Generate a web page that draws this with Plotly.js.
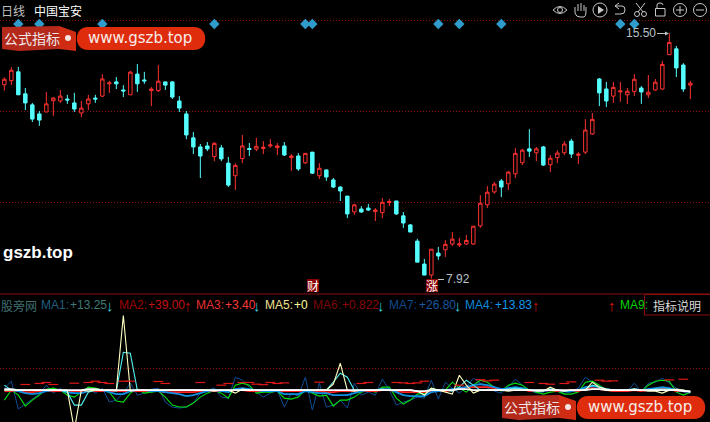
<!DOCTYPE html>
<html><head><meta charset="utf-8">
<script src="https://cdn.plot.ly/plotly-3.0.1.min.js"></script>
<style>html,body{margin:0;padding:0;background:#000;overflow:hidden}#c{width:710px;height:422px}</style>
</head><body><div id="c"></div>
<script>
const opens=[13.91,14.04,14.31,13.63,13.29,13.01,13.07,13.42,13.41,13.47,
13.35,13.04,13.32,13.50,13.56,13.94,14.00,13.75,13.60,14.24,
14.06,13.73,13.73,14.00,14.00,13.41,13.01,12.27,11.99,12.02,
11.69,11.96,11.49,11.10,11.63,11.94,11.92,11.94,12.02,11.97,
12.02,11.66,11.71,11.50,11.83,11.10,11.28,10.97,10.75,10.47,
9.98,10.07,10.10,9.99,9.96,10.27,10.32,9.86,9.58,9.08,
8.37,8.03,8.71,8.81,8.99,8.96,8.99,8.99,9.55,10.20,
10.60,10.94,10.85,11.16,11.50,11.93,11.81,11.99,11.44,11.66,
11.81,12.17,11.73,11.83,12.39,14.09,13.78,13.56,13.69,13.60,
13.70,13.81,13.60,13.75,13.78,14.84,15.02,14.52,13.90];
const closes=[14.08,14.36,13.60,13.35,12.85,12.82,13.32,13.50,13.56,13.44,
13.16,13.19,13.47,13.47,14.09,13.97,13.94,13.72,14.30,13.94,
14.03,13.78,14.02,13.90,13.53,13.19,12.36,11.99,11.71,11.93,
12.10,11.62,10.81,11.42,12.02,11.91,12.01,11.98,12.05,12.02,
11.74,11.71,11.31,11.79,11.18,11.33,11.06,10.75,10.63,9.92,
10.20,9.98,10.04,10.04,10.28,10.30,9.92,9.64,9.36,8.43,
8.03,8.83,8.62,8.98,9.14,8.99,9.10,9.54,10.25,10.59,
10.84,10.75,11.21,11.79,11.89,11.86,11.93,11.43,11.64,11.80,
12.08,11.77,11.77,12.51,12.84,13.66,13.41,13.83,13.72,13.71,
14.08,13.69,13.68,13.99,14.54,15.22,14.43,13.78,13.96];
const highs=[14.14,14.46,14.46,13.81,13.35,13.10,13.69,13.53,13.75,13.60,
13.66,13.41,13.60,13.60,14.24,14.03,14.15,13.90,14.34,14.55,
14.31,13.84,14.52,14.00,14.03,13.56,13.10,12.45,12.08,12.14,
12.14,12.05,11.68,11.49,12.36,12.11,12.27,12.17,12.23,12.11,
12.14,11.77,11.80,11.80,11.83,11.49,11.28,11.03,10.78,10.47,
10.23,10.16,10.23,10.10,10.41,10.38,10.32,9.98,9.61,9.15,
8.53,8.83,8.90,9.11,9.36,9.18,9.27,9.54,10.50,10.78,
10.91,11.00,11.25,11.96,11.93,12.54,11.99,12.02,11.74,11.89,
12.17,12.24,11.83,12.85,13.04,14.12,14.00,14.00,14.00,13.81,
14.24,13.87,14.21,14.09,14.65,15.50,15.11,14.58,14.03];
const lows=[13.73,13.90,13.60,13.13,12.76,12.64,13.07,12.95,13.35,13.32,
13.07,12.91,13.13,13.35,13.53,13.66,13.78,13.53,13.60,13.69,
13.94,13.25,13.69,13.75,13.47,13.07,12.23,11.77,11.03,11.86,
11.55,11.55,10.75,10.66,11.49,11.71,11.86,11.77,11.96,11.74,
11.71,11.25,11.25,11.46,11.15,11.00,10.94,10.72,10.32,9.79,
9.89,9.95,10.01,9.70,9.79,10.16,9.89,9.49,9.36,8.43,
8.03,7.92,8.50,8.59,8.93,8.90,8.96,8.96,9.49,10.10,
10.54,10.44,10.66,11.03,11.43,11.68,11.55,11.40,11.21,11.49,
11.74,11.65,11.46,11.77,12.36,13.25,13.22,13.35,13.38,13.32,
13.56,13.32,13.50,13.72,13.75,14.84,14.15,13.69,13.47];
const signalDays=[2,5,14,30,43,44,62,65,71,88,90];

const ma7=[2,9,-19,-14,-9,-4,5,-3,2,-5,
-2,-1,2,-3,2,-12,-10,-3,7,-5,
-3,1,2,-12,-17,-18,-17,-13,-3,0,
2,-7,-8,13,10,3,-2,-7,-3,0,
-17,-3,-6,13,-20,7,-17,-15,-10,-18,
7,-5,-2,-5,11,0,-15,-12,-10,-7,
-8,10,-9,8,2,-3,3,12,7,2,
-1,-3,3,11,5,0,-3,-2,2,-1,
-3,-2,2,13,8,4,1,-1,0,-1,
7,-2,7,8,12,7,2,-2,-3];
const ma9=[-10,0,-5,-16,-10,-5,1,2,0,-5,
-7,-2,3,2,0,-2,-11,-12,-3,1,
-3,-2,-1,-7,-15,-17,-17,-13,-7,-3,
0,-3,-8,5,7,5,-3,-2,-2,-1,
-8,-9,-7,0,-3,-6,-5,-16,-10,-10,
-7,-2,0,-2,3,3,-8,-14,-10,-4,
-3,2,0,0,8,2,-2,5,10,8,
3,-1,5,7,5,0,-2,-4,-2,-1,
-4,-4,-2,8,9,5,0,-1,-1,-1,
1,-1,5,9,10,9,-2,-5,-2];
const ma5=[0,0,0,0,0,0,0,0,0,0,
-40,0,-1,0,0,0,0,75,-1,0,
0,0,0,0,0,0,0,0,0,0,
-1,0,0,-3,1,0,0,0,0,0,
0,0,0,0,0,0,0,6,27,0,
-1,0,0,0,0,0,0,0,0,-1,
-5,2,0,-2,-4,15,5,-3,0,0,
0,0,-1,0,0,0,-1,-1,3,0,
-1,0,0,0,8,3,1,0,0,0,
1,0,-1,-1,-3,0,1,0,-2];
const ma8=[5,0,0,0,0,0,0,0,0,-2,
-15,-15,-2,0,0,0,-1,38,37,0,
0,0,0,0,0,0,0,0,0,0,
0,0,0,0,0,0,0,0,0,0,
0,0,0,0,0,0,0,8,17,13,
0,0,0,0,1,0,0,0,0,-1,
-5,1,0,0,-1,3,10,5,0,0,
0,0,1,2,1,0,0,0,1,0,
-1,0,0,1,5,3,1,0,0,0,
1,0,0,1,1,1,0,0,-2];
const ma4=[0,0,-1,-3,-4,-3,-1,0,0,-2,
-3,-3,-1,0,0,-2,-4,-4,-1,0,
0,-1,-1,-2,-3,-4,-6,-5,-3,-1,
0,-1,-2,1,2,1,0,-1,-1,-1,
-4,-4,-4,-1,-2,-3,-3,-5,-5,-5,
-3,-1,0,0,1,1,-2,-5,-6,-6,
-6,-2,-1,0,1,2,3,5,6,5,
3,1,2,3,2,0,-1,-1,0,0,
-1,-1,0,3,4,3,1,0,0,0,
1,0,1,2,3,2,0,-1,-2];
const ma3=[-1,-1,-1,-2,-2,-1,-1,-1,-1,-1,
-1,-1,0,-1,-1,-1,-1,-1,-1,-1,
-1,-1,-1,-2,-2,-2,-2,-2,-1,-1,
-1,-1,-1,0,0,-1,-1,-1,-1,-1,
-1,-1,-1,-1,-1,-1,-2,-2,-1,-1,
-1,-1,-1,-1,0,0,-1,-2,-2,-2,
-2,-1,-1,-1,0,2,3,3,3,3,
2,1,1,2,1,-1,-1,-1,0,-1,
-1,-1,-1,1,2,1,0,-1,-1,-1,
0,-1,0,1,2,1,-1,-1,-2];
const maWhite=[1,1,0,0,0,0,0,0,0,0,
0,0,1,1,0,0,0,0,0,0,
0,0,0,0,0,0,0,0,0,0,
0,0,0,0,0,0,0,0,0,0,
0,0,0,0,0,0,0,0,0,0,
0,0,0,0,0,0,0,0,0,-1,
-1,0,0,0,0,1,1,0,0,0,
0,0,0,0,0,0,0,0,0,0,
0,0,0,0,1,1,0,0,0,0,
0,0,0,0,0,0,0,-1,-1];
const ma2Days=[3,5,6,7,10,12,13,14,15,17,18,22,23,28,31,32,34,35,36,37,38,39,40,45,51,52,56,57,58,59,60,65,68,69,70,75,77,78,80,81,85,86,87,95,97];
const ma2Vals=[5.7,6.7,7.7,5.7,7,7.7,9,7.7,6.7,9,9,8.7,6.7,7.7,5,6.7,7.7,7.7,6,5.5,7.7,6.7,7.3,8,6.7,7.7,7.7,7.3,6.7,7.3,9,5,10.5,9.3,10,7.7,6.7,6,6.7,8.3,10,9,9.3,10.3,11];

const days=opens.map((_,i)=>i);
const legendLabels=['MA1:','+13.25','MA2:','+39.00','MA3:','+3.40','MA5:','+0','MA6:','+0.822','MA7:','+26.80','MA4:','+13.83','MA9:'];

/* geometry of the terminal window (pixels) */
const W=710,H=422,mainBottom=293,subTop=315;
const pxPerDay=7,firstX=4.33;
const priceAt=y=>16.53-0.0309*y;
const subAt=y=>390-y;

const cjk='"Noto Sans CJK SC","Liberation Sans",sans-serif';
const lat='"Liberation Sans",Arial,sans-serif';
const ann=[],shp=[];
const txt=(x,y,text,color,size,family,anchor,extra)=>ann.push(Object.assign({xref:'x3',yref:'y3',x,y,text,showarrow:false,
  xanchor:anchor||'left',yanchor:'middle',borderpad:0,align:'left',font:{color,size,family:family||lat}},extra||{}));
const path=(d,o)=>shp.push(Object.assign({type:'path',xref:'x3',yref:'y3',path:d,line:{width:0},layer:'above'},o||{}));
const rect=(x0,y0,x1,y1,o)=>shp.push(Object.assign({type:'rect',xref:'x3',yref:'y3',x0,y0,x1,y1,line:{width:0},layer:'above'},o||{}));
const lineS=(x0,y0,x1,y1,color,w)=>shp.push({type:'line',xref:'x3',yref:'y3',x0,y0,x1,y1,line:{color,width:w||1},layer:'above'});
const circ=(cx,cy,r,color)=>shp.push({type:'circle',xref:'x3',yref:'y3',x0:cx-r,x1:cx+r,y0:cy-r,y1:cy+r,line:{color,width:1},layer:'above'});

/* header */
txt(0,10,'日线','#c0c0c0',12,cjk);
txt(33,10,'中国宝安','#ffffff',12,cjk);
/* separators */
lineS(0,294,W,294,'#8a0f0f',1);
/* price labels */
txt(625,33,'15.50','#b8c0c8',12);
lineS(657,33.5,668,33.5,'#c0c0c0',1);
path('M665 31.5L669 33.5L665 35.5Z',{fillcolor:'#c0c0c0'});
txt(445,278.5,'7.92','#b8c0c8',12);
lineS(432,279.5,444,279.5,'#c0c0c0',1);
/* event tags */
[[313,'财'],[432,'涨']].forEach(([x,t])=>{
  rect(x-6,279,x+6,292,{fillcolor:'#8a0000'});
  txt(x,285.5,t,'#ffffff',12,cjk,'center');
});
/* watermark */
txt(2,252,'gszb.top','#ffffff',17,lat,'left',{font:{color:'#ffffff',size:17,family:lat,weight:700}});
[[0,0],[500,369]].forEach(([dx,dy])=>{
  const P=(x,y)=>(x+dx)+' '+(y+dy);
  path(`M${P(2,27)}L${P(59,26)}L${P(59,49)}L${P(19,51)}L${P(2,49)}Z`,{fillcolor:'#b5291a'});
  path(`M${P(59,26)}L${P(76,32)}L${P(76,51)}L${P(59,49)}Z`,{fillcolor:'#d02c14'});
  path(`M${P(88,27)}L${P(194,27)}C${P(209,27)} ${P(209,50)} ${P(194,50)}L${P(88,50)}C${P(73,50)} ${P(73,27)} ${P(88,27)}Z`,{fillcolor:'#df2c0c'});
  shp.push({type:'circle',xref:'x3',yref:'y3',x0:65+dx,x1:71+dx,y0:35+dy,y1:41+dy,fillcolor:'#f4e4e0',line:{width:0},layer:'above'});
  txt(3+dx,38+dy,'公式指标','#f0e8e8',14,cjk);
  txt(87+dx,38+dy,'www.gszb.top','#f6ecea',15,'"DejaVu Sans",sans-serif');
});
/* sub panel legend */
const lx=[40,69,118,147,195,224,264,293,312,341,388,418,464,494,619];
const lc=['#1f5f80','#3f7a78','#a00000','#c01010','#e83030','#ff3838','#f0e090','#ffffa0','#7c0808','#8c0808','#0c4a8c','#1858a0','#0a88d8','#1098f0','#00d000'];
legendLabels.forEach((t,i)=>txt(lx[i],305,t,lc[i],12));
txt(0,305,'股旁网','#3f6f6f',12,cjk);
[[110,'↓','#38c8d8'],[188,'↑','#c01010'],[257,'↓','#38c8d8'],[381,'↓','#38c8d8'],[458,'↓','#38c8d8'],[536,'↑','#c01010'],[612,'↑','#e01010']]
 .forEach(([x,a,c])=>txt(x,305,a,c,15,lat,'center'));
rect(644.5,294.5,711,315,{fillcolor:'#000',line:{color:'#8a0f0f',width:1}});
txt(677,305,'指标说明','#d8d8d8',12,cjk,'center');

/* toolbar */
const ic='#c8c8c8';
path('M553 10Q560 3 567 10Q560 17 553 10Z',{line:{color:ic,width:1}});circ(560,10,2.5,ic);
path('M575 7V13Q576 17 580 17H584Q586 16 586 12V7M578 11V4M581 11V3M584 11V5',{line:{color:ic,width:1}});
circ(600,10,7,ic);path('M598 6L604 10L598 14Z',{fillcolor:ic});
path('M615 6L619 3M615 6L619 9M615 6H622Q625 6 625 10Q625 14 621 14H615',{line:{color:ic,width:1}});
circ(637,14,2.5,ic);circ(644,14,2.5,ic);path('M638 12L645 3M643 12L636 3',{line:{color:ic,width:1}});
rect(655.5,8.5,665,16,{line:{color:ic,width:1}});path('M657 8V5Q657 3 660 3Q663 3 663 5',{line:{color:ic,width:1}});
circ(680,10,6.5,ic);lineS(676,10,684,10,ic);lineS(680,6,680,14,ic);
circ(700,10,6.5,ic);lineS(696,10,704,10,ic);

const subLine=(y,color,width)=>({type:'scatter',mode:'lines',x:days,y,xaxis:'x',yaxis:'y2',hoverinfo:'skip',line:{color,width}});
const traces=[
 {type:'candlestick',x:days,open:opens,high:highs,low:lows,close:closes,xaxis:'x',yaxis:'y',width:0.62,hoverinfo:'skip',whiskerwidth:0,
  increasing:{line:{color:'#ff3232',width:1},fillcolor:'#000000'},
  decreasing:{line:{color:'#54ffff',width:1},fillcolor:'#54ffff'}},
 {type:'scatter',mode:'markers',x:signalDays,y:signalDays.map(()=>priceAt(24)),xaxis:'x',yaxis:'y',hoverinfo:'skip',
  marker:{symbol:'diamond',size:8,color:'#2f9ccc'}},
 subLine(ma7,'#0f4d96',1),
 subLine(ma9,'#00e010',1.1),
 subLine(ma3,'#ff2020',1.6),
 subLine(ma4,'#1090e0',1.8),
 subLine(ma8,'#50f0f0',1.1),
 subLine(ma5,'#ffffc0',1.1),
 subLine(maWhite,'#ffffff',1.6),
 {type:'scatter',mode:'markers',x:ma2Days,y:ma2Vals,xaxis:'x',yaxis:'y2',hoverinfo:'skip',
  marker:{symbol:'line-ew',size:7,line:{color:'#e01818',width:1.2}}},
 {type:'scatter',mode:'markers',x:[0],y:[0],xaxis:'x3',yaxis:'y3',hoverinfo:'skip',marker:{size:1,opacity:0}}
];
const gridBase={showticklabels:false,ticks:'',zeroline:false,showline:false,gridcolor:'#8a0f0f',griddash:'1px,2px',gridwidth:1,tickmode:'array',fixedrange:true};
const layout={
 width:W,height:H,margin:{l:0,r:0,t:0,b:0,pad:0},paper_bgcolor:'#000',plot_bgcolor:'rgba(0,0,0,0)',showlegend:false,
 xaxis:{domain:[0,1],range:[-firstX/pxPerDay,(W-firstX)/pxPerDay],visible:false,rangeslider:{visible:false},anchor:'y2',fixedrange:true},
 yaxis:Object.assign({},gridBase,{domain:[1-mainBottom/H,1],range:[priceAt(mainBottom),priceAt(0)],tickvals:[20,111,202].map(priceAt),anchor:'x'}),
 yaxis2:Object.assign({},gridBase,{domain:[0,1-subTop/H],range:[subAt(H),subAt(subTop)+0.5],tickvals:[subAt(315.5),subAt(368.5)],anchor:'x'}),
 xaxis3:{domain:[0,1],range:[0,W],visible:false,anchor:'y3',fixedrange:true},
 yaxis3:{domain:[0,1],range:[H,0],visible:false,anchor:'x3',fixedrange:true},
 shapes:shp,annotations:ann
};
Plotly.newPlot('c',traces,layout,{displayModeBar:false,staticPlot:true});
</script></body></html>
